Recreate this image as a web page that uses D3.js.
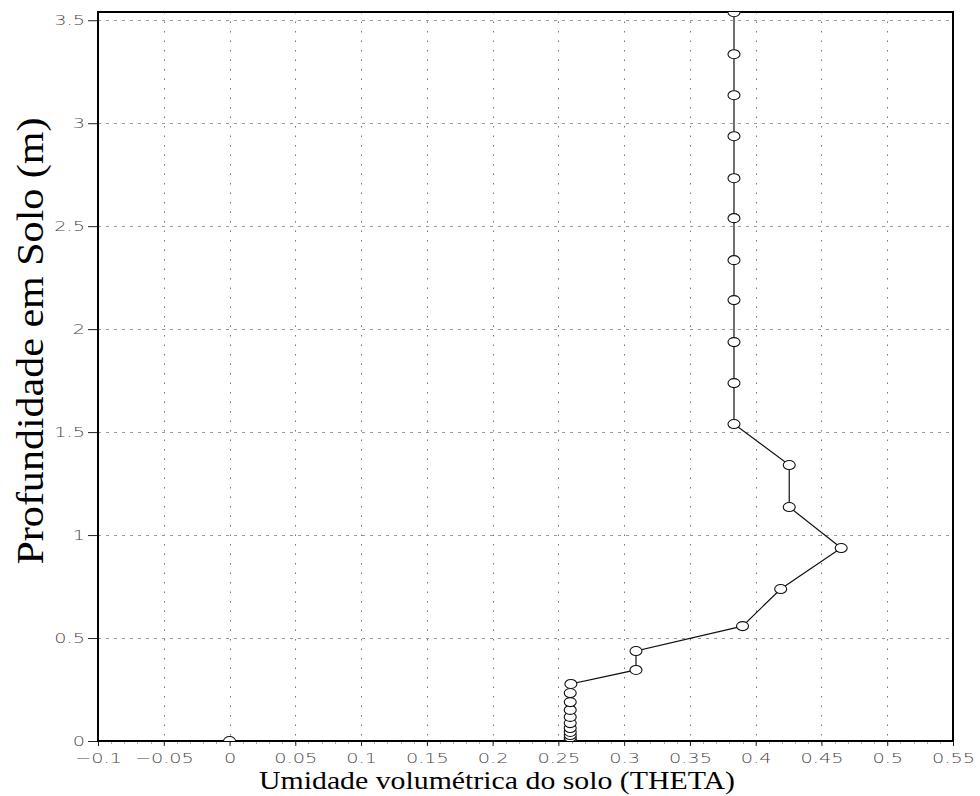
<!DOCTYPE html>
<html><head><meta charset="utf-8">
<script src="https://cdn.jsdelivr.net/npm/d3@7"></script>
<style>body{margin:0;background:#fff}</style>
</head><body>
<svg id="c" width="980" height="796"></svg>
<script>
// Data
const depth = [0, 0.007, 0.017, 0.029, 0.044, 0.063, 0.087, 0.117, 0.151, 0.189, 0.233, 0.277,
  0.345, 0.437, 0.558, 0.738, 0.937, 1.136, 1.340,
  1.539, 1.738, 1.937, 2.141, 2.335, 2.539, 2.733, 2.937, 3.136, 3.335, 3.539];
const theta = [0.259, 0.259, 0.259, 0.259, 0.259, 0.259, 0.259, 0.259, 0.259, 0.259, 0.259, 0.2595,
  0.309, 0.309, 0.390, 0.419, 0.465, 0.4255, 0.4255,
  0.3835, 0.3835, 0.3835, 0.3835, 0.3835, 0.3835, 0.3835, 0.3835, 0.3835, 0.3835, 0.3835];
const extraPointTheta = [0];
const extraPointDepth = [0];
const xTicks = [-0.1, -0.05, 0, 0.05, 0.1, 0.15, 0.2, 0.25, 0.3, 0.35, 0.4, 0.45, 0.5, 0.55];
const xTickLabels = ["−0.1", "−0.05", "0", "0.05", "0.1", "0.15", "0.2", "0.25", "0.3", "0.35", "0.4", "0.45", "0.5", "0.55"];
const yTicks = [0, 0.5, 1, 1.5, 2, 2.5, 3, 3.5];
const yTickLabels = ["0", "0.5", "1", "1.5", "2", "2.5", "3", "3.5"];
const xTitle = "Umidade volumétrica do solo (THETA)";
const yTitle = "Profundidade em Solo (m)";

const svg = d3.select("#c");
const L = 98, R = 953, T = 12, B = 741;
const x = d3.scaleLinear().domain([-0.1, 0.55]).range([L, R]);
const y = d3.scaleLinear().domain([0, 3.54]).range([B, T]);

svg.append("defs").append("clipPath").attr("id", "clip")
  .append("rect").attr("x", L).attr("y", T).attr("width", R - L).attr("height", B - T);

// grid
const grid = svg.append("g");
grid.selectAll("line.v").data(xTicks.filter(v => v > -0.1 && v < 0.55)).join("line")
  .attr("x1", d => Math.round(x(d)) + 0.5).attr("x2", d => Math.round(x(d)) + 0.5)
  .attr("y1", T).attr("y2", B)
  .attr("stroke", "#777").attr("stroke-width", 1).attr("stroke-dasharray", "1.5,8");
grid.selectAll("line.h").data(yTicks.filter(v => v > 0)).join("line")
  .attr("y1", d => Math.round(y(d)) + 0.5).attr("y2", d => Math.round(y(d)) + 0.5)
  .attr("x1", L).attr("x2", R)
  .attr("stroke", "#999").attr("stroke-width", 1).attr("stroke-dasharray", "3,5");

// minor x ticks
const minor = d3.range(-0.1, 0.5501, 0.01);
svg.append("g").selectAll("line").data(minor).join("line")
  .attr("x1", d => Math.round(x(d)) + 0.5).attr("x2", d => Math.round(x(d)) + 0.5)
  .attr("y1", B + 1).attr("y2", B + 3).attr("stroke", "#aaa");

// axes
const xAxis = d3.axisBottom(x).tickValues(xTicks).tickSize(5).tickPadding(4)
  .tickFormat((d, i) => xTickLabels[i]);
const gx = svg.append("g").attr("transform", `translate(0,${B})`).call(xAxis);
const yAxis = d3.axisLeft(y).tickValues(yTicks).tickSize(10).tickPadding(3)
  .tickFormat((d, i) => yTickLabels[i]);
const gy = svg.append("g").attr("transform", `translate(${L},0)`).call(yAxis);
[gx, gy].forEach(g => {
  g.select(".domain").remove();
  g.selectAll(".tick line").attr("stroke", "#222");
  g.selectAll(".tick text").attr("fill", "#4a4a4a").attr("font-family", "DejaVu Sans")
    .attr("font-size", 14.5).attr("font-weight", 300)
    .each(function() {
      const w = this.getComputedTextLength();
      d3.select(this).attr("textLength", w * 1.33).attr("lengthAdjust", "spacingAndGlyphs");
    });
});
gx.selectAll(".tick text").attr("dy", "0.9em");
gy.selectAll(".tick text").attr("dy", "0.3em");

// frame
svg.append("rect").attr("x", L).attr("y", T).attr("width", R - L).attr("height", B - T)
  .attr("fill", "none").attr("stroke", "#000").attr("stroke-width", 2);

// line + markers
const pts = depth.map((d, i) => ({d, t: theta[i]}));
const plot = svg.append("g").attr("clip-path", "url(#clip)");
plot.append("path").datum(pts)
  .attr("d", d3.line().x(p => x(p.t)).y(p => y(p.d)))
  .attr("fill", "none").attr("stroke", "#111").attr("stroke-width", 1.2);
const extra = extraPointTheta.map((t, i) => ({t, d: extraPointDepth[i]}));
plot.selectAll("ellipse.m").data(pts.concat(extra)).join("ellipse")
  .attr("cx", p => x(p.t)).attr("cy", p => y(p.d))
  .attr("rx", 6).attr("ry", 4.5)
  .attr("fill", "#fff").attr("stroke", "#111").attr("stroke-width", 1.1);

// titles
svg.append("text").attr("x", 497).attr("y", 789).attr("text-anchor", "middle")
  .attr("font-family", "Liberation Serif").attr("font-size", 25).attr("fill", "#000")
  .attr("textLength", 476).attr("lengthAdjust", "spacingAndGlyphs")
  .text(xTitle);
svg.append("text").attr("transform", "translate(43,341) rotate(-90)").attr("text-anchor", "middle")
  .attr("font-family", "Liberation Serif").attr("font-size", 38).attr("fill", "#000")
  .attr("textLength", 447).attr("lengthAdjust", "spacingAndGlyphs")
  .text(yTitle);
</script>
</body></html>
